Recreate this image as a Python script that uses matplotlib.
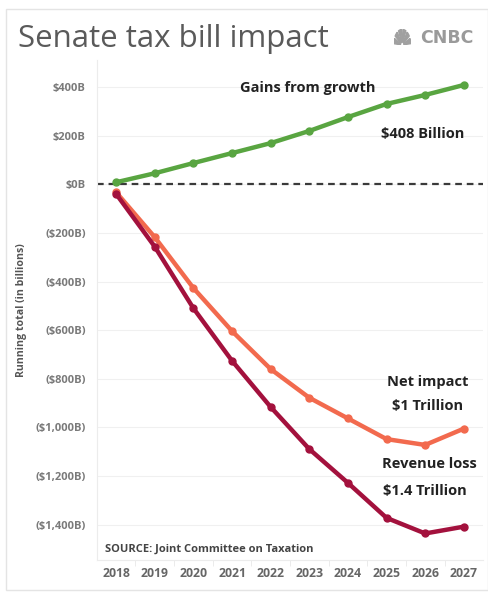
import matplotlib
matplotlib.use("Agg")
import matplotlib.pyplot as plt
from matplotlib.patches import Rectangle, Wedge

years = [2018, 2019, 2020, 2021, 2022, 2023, 2024, 2025, 2026, 2027]
gains = [8, 45, 87, 128, 169, 219, 276, 330, 367, 408]
net_impact = [-33, -218, -427, -604, -760, -878, -963, -1048, -1072, -1005]
revenue_loss = [-40, -257, -510, -726, -916, -1089, -1228, -1372, -1436, -1408]
ytick_vals = [400, 200, 0, -200, -400, -600, -800, -1000, -1200, -1400]
ytick_labels = ["$400B", "$200B", "$0B", "($200B)", "($400B)", "($600B)",
                "($800B)", "($1,000B)", "($1,200B)", "($1,400B)"]

plt.rcParams["font.family"] = ["Open Sans", "DejaVu Sans"]

fig = plt.figure(figsize=(4.89, 6.0), dpi=100)
fig.patches.append(Rectangle((0.012, 0.017), 0.985, 0.968, transform=fig.transFigure,
                             fill=False, edgecolor="#e4e4e4", lw=1))
ax = fig.add_axes([0.198, 0.0667, 0.79, 0.833])

green = "#59a541"
orange = "#f26a4e"
darkred = "#a3113d"

ax.axhline(0, color="#3a3a3a", lw=1.6, ls=(0, (3, 2.2)), zorder=1)
ax.plot(years, gains, color=green, lw=3.2, marker="o", ms=5, zorder=3)
ax.plot(years, net_impact, color=orange, lw=3.2, marker="o", ms=5, zorder=3)
ax.plot(years, revenue_loss, color=darkred, lw=3.2, marker="o", ms=5, zorder=4)

ax.set_xlim(2017.5, 2027.5)
ax.set_ylim(-1545, 510)
ax.set_yticks(ytick_vals)
ax.set_yticklabels(ytick_labels)
ax.set_xticks(years)
ax.set_xticks([y + 0.5 for y in years[:-1]], minor=True)
ax.tick_params(axis="y", length=0, labelsize=8, labelcolor="#7a7a7a", pad=8)
ax.tick_params(axis="x", which="major", length=0, labelsize=8.8, labelcolor="#666666", pad=5)
ax.tick_params(axis="x", which="minor", length=4, color="#e8e8e8")
for lab in ax.get_yticklabels() + ax.get_xticklabels():
    lab.set_fontweight("bold")
ax.grid(axis="y", color="#f0f0f0", lw=0.8)
ax.set_axisbelow(True)
for s in ["top", "right"]:
    ax.spines[s].set_visible(False)
ax.spines["left"].set_color("#ececec")
ax.spines["bottom"].set_color("#ececec")

ax.set_ylabel("Running total (in billions)", fontsize=7.6, color="#555555",
              fontweight="bold", labelpad=6)

txt = dict(fontsize=10.5, fontweight="bold", color="#222222", ha="center", va="center")
ax.text(2022.95, 396, "Gains from growth", **txt)
ax.text(2025.93, 206, "$408 Billion", **txt)
ax.text(2026.06, -812, "Net impact", **txt)
ax.text(2026.06, -911, "$1 Trillion", **txt)
ax.text(2026.1, -1150, "Revenue loss", **txt)
ax.text(2026.0, -1262, "$1.4 Trillion", **txt)
ax.text(2017.72, -1500, "SOURCE: Joint Committee on Taxation", fontsize=8,
        fontweight="bold", color="#444444", ha="left", va="center")

fig.text(0.037, 0.922, "Senate tax bill impact", fontsize=22.5, color="#5a5a5a",
         ha="left", va="baseline")
fig.text(0.968, 0.937, "CNBC", fontsize=12.5, fontweight="bold", color="#9a9a9a",
         ha="right", va="center", family="DejaVu Sans")

# small peacock mark next to the logo text
lax = fig.add_axes([0.805, 0.925, 0.035, 0.026])
lax.set_xlim(-1, 1)
lax.set_ylim(0, 1)
lax.axis("off")
for i in range(6):
    a0 = i * 30
    lax.add_patch(Wedge((0, 0), 1.0, a0 + 5, a0 + 25, width=0.8, color="#a0a0a0"))

fig.savefig("out.png", dpi=100, facecolor="white")
